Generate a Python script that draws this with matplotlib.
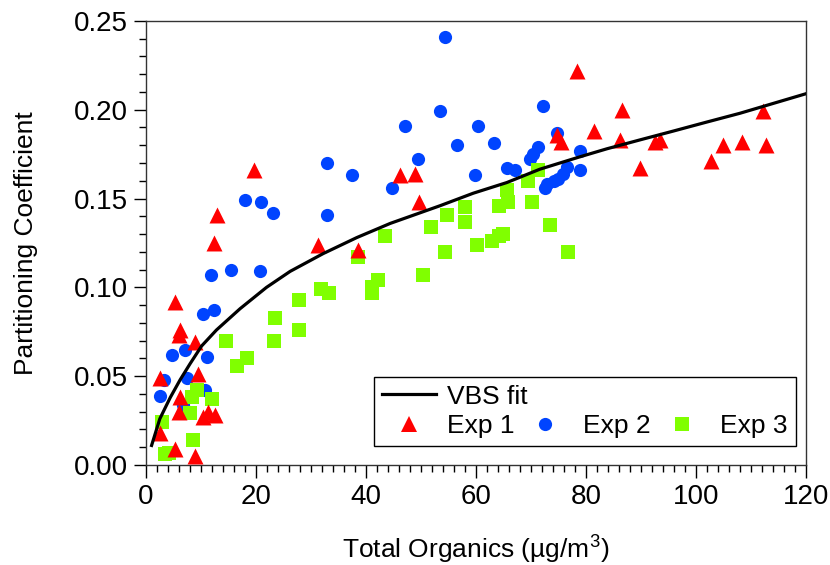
#!/usr/bin/env python3

import matplotlib
matplotlib.use('Agg')
import matplotlib.pyplot as plt
from matplotlib.lines import Line2D
from matplotlib.ticker import MultipleLocator

plt.rcParams['font.family'] = ['Liberation Sans', 'DejaVu Sans']
plt.rcParams['mathtext.fontset'] = 'custom'
plt.rcParams['mathtext.rm'] = 'Liberation Sans'

# VBS fit curve
fit_x = [1.0, 2.5, 4.4, 6.2, 8.0, 10.1, 12.8, 17.1, 21.9, 26.2, 32.2, 38.3,
         44.4, 53.5, 59.5, 65.6, 71.6, 78.9, 83.8, 89.8, 95.9, 101.9, 108.0,
         120.0]
fit_y = [0.011, 0.026, 0.038, 0.048, 0.057, 0.067, 0.076, 0.088, 0.100, 0.109,
         0.119, 0.128, 0.136, 0.146, 0.153, 0.159, 0.1665, 0.1735, 0.178, 0.183,
         0.188, 0.193, 0.198, 0.209]

# Exp 1 (red triangles)
exp1_x = [2.5, 2.6, 5.3, 5.3, 6.2, 5.9, 8.9, 9.5, 6.2, 5.9, 11.3, 12.5, 10.4,
          8.9, 12.4, 12.9, 19.7, 31.2, 38.6, 46.2, 48.9, 49.7, 74.7, 75.4,
          78.3, 81.5, 86.2, 86.5, 89.8, 92.5, 93.5, 102.7, 105.0, 108.3,
          112.2, 112.7]
exp1_y = [0.049, 0.018, 0.092, 0.009, 0.076, 0.073, 0.069, 0.051, 0.038, 0.030,
          0.030, 0.028, 0.027, 0.005, 0.125, 0.141, 0.166, 0.124, 0.121, 0.163,
          0.164, 0.148, 0.186, 0.182, 0.222, 0.188, 0.183, 0.200, 0.167, 0.182,
          0.183, 0.171, 0.180, 0.182, 0.199, 0.180]

# Exp 2 (blue circles)
exp2_x = [2.6, 3.2, 4.7, 7.0, 11.0, 7.4, 10.7, 6.7, 10.4, 12.4, 11.8, 15.4,
          20.7, 18.0, 20.9, 23.0, 32.9, 32.9, 37.5, 44.8, 47.0, 49.5, 53.5,
          54.4, 56.5, 59.8, 60.4, 63.3, 65.6, 67.1, 69.8, 70.4, 71.2, 72.1,
          72.5, 72.9, 74.1, 75.0, 75.9, 76.5, 74.7, 78.9, 78.9]
exp2_y = [0.039, 0.048, 0.062, 0.065, 0.061, 0.049, 0.042, 0.034, 0.085, 0.087,
          0.107, 0.110, 0.109, 0.149, 0.148, 0.142, 0.141, 0.170, 0.163, 0.156,
          0.191, 0.172, 0.199, 0.241, 0.180, 0.163, 0.191, 0.181, 0.167, 0.166,
          0.172, 0.175, 0.179, 0.202, 0.156, 0.158, 0.160, 0.161, 0.164, 0.168,
          0.187, 0.177, 0.166]

# Exp 3 (green squares)
exp3_x = [2.9, 3.5, 4.1, 8.0, 8.3, 8.6, 9.2, 11.9, 14.5, 16.5, 18.3, 23.3,
          23.5, 27.9, 27.9, 31.8, 33.3, 38.6, 41.0, 41.0, 42.2, 43.5, 50.3,
          51.9, 54.4, 54.7, 58.0, 58.0, 60.1, 62.9, 64.1, 65.0, 64.1, 65.6,
          65.9, 69.5, 70.1, 71.3, 73.5, 76.8]
exp3_y = [0.024, 0.006, 0.007, 0.029, 0.038, 0.014, 0.042, 0.037, 0.070, 0.056,
          0.060, 0.070, 0.083, 0.076, 0.093, 0.099, 0.097, 0.117, 0.100, 0.097,
          0.104, 0.129, 0.107, 0.134, 0.120, 0.141, 0.145, 0.137, 0.124, 0.126,
          0.129, 0.130, 0.146, 0.155, 0.148, 0.160, 0.148, 0.166, 0.135, 0.120]

red = '#ff0000'
blue = '#0044ff'
green = '#80ff00'
fs = 19


def main():
    fig = plt.figure(figsize=(8.3, 5.65), dpi=100)
    ax = fig.add_axes([0.176, 0.177, 0.795, 0.786])

    ax.scatter(exp2_x, exp2_y, marker='o', s=9.5**2, color=blue, linewidths=0, zorder=2)
    ax.scatter(exp3_x, exp3_y, marker='s', s=9.5**2, color=green, linewidths=0, zorder=3)
    ax.scatter(exp1_x, exp1_y, marker='^', s=11.5**2, color=red, linewidths=0, zorder=4)
    ax.plot(fit_x, fit_y, color='black', lw=2.3, zorder=5)

    ax.set_xlim(0, 120)
    ax.set_ylim(0, 0.25)
    ax.xaxis.set_major_locator(MultipleLocator(20))
    ax.xaxis.set_minor_locator(MultipleLocator(2))
    ax.yaxis.set_major_locator(MultipleLocator(0.05))
    ax.yaxis.set_minor_locator(MultipleLocator(0.01))
    ax.yaxis.set_major_formatter(lambda v, p: '%.2f' % v)
    ax.tick_params(which='major', direction='out', length=9, width=1,
                   labelsize=20, pad=4)
    ax.tick_params(axis='x', which='major', pad=5)
    ax.tick_params(which='minor', direction='out', length=5, width=1)
    for sp in ax.spines.values():
        sp.set_linewidth(1.0)
        sp.set_color('#333333')

    ax.set_xlabel('Total Organics (µg/m$^{3}$)', fontsize=fs)
    ax.set_ylabel('Partitioning Coefficient', fontsize=fs)
    ax.xaxis.set_label_coords(0.5, -0.15)
    ax.yaxis.set_label_coords(-0.164, 0.5)

    # first row holds only the fit line; its label is placed by hand so it
    # does not widen the first column
    blank = Line2D([], [], linestyle='none', marker='')
    h_fit = Line2D([], [], color='black', lw=2.3)
    h1 = Line2D([], [], linestyle='none', marker='^', ms=11.5, color=red, mew=0)
    h2 = Line2D([], [], linestyle='none', marker='o', ms=9.5, color=blue, mew=0)
    h3 = Line2D([], [], linestyle='none', marker='s', ms=9.5, color=green, mew=0)
    leg = ax.legend([h_fit, h1, blank, h2, blank, h3],
                    [' ', 'Exp 1', ' ', 'Exp 2', ' ', 'Exp 3'],
                    ncol=3, loc='lower left', bbox_to_anchor=(0.345, 0.043),
                    borderaxespad=0,
                    fontsize=fs, frameon=True, fancybox=False, framealpha=1,
                    edgecolor='black', handlelength=2.05, handletextpad=0.42,
                    columnspacing=0.15, labelspacing=0.2, borderpad=0.3)
    leg.get_frame().set_linewidth(1.0)

    fig.canvas.draw()
    texts = leg.get_texts()
    inv = fig.transFigure.inverted()
    b0 = texts[0].get_window_extent()
    b1 = texts[1].get_window_extent()
    x0, _ = inv.transform((b1.x0, 0))
    _, y0 = inv.transform((0, b0.y0))
    fig.text(x0, y0, 'VBS fit', fontsize=fs, ha='left', va='bottom', zorder=10)

    fig.savefig('out.png', dpi=100)


if __name__ == '__main__':
    main()
